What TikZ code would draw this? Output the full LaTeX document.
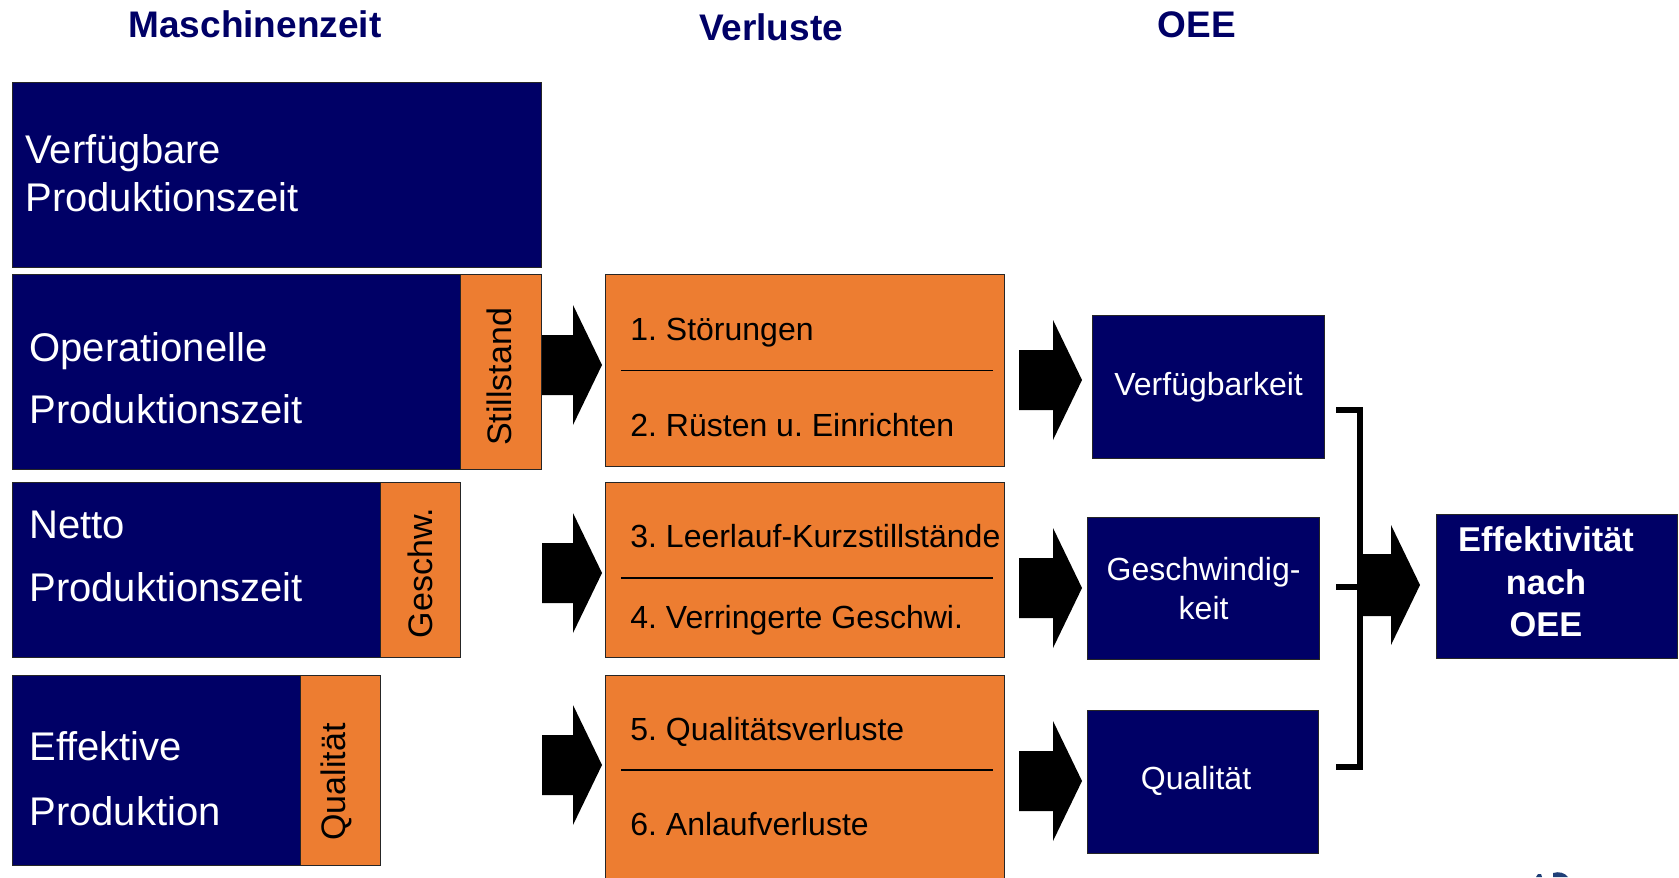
\documentclass[tikz,border=0pt]{standalone}
\usepackage{fontspec}
\setmainfont{Liberation Sans}
\frenchspacing
\definecolor{navy}{RGB}{0,0,102}
\definecolor{lossorange}{RGB}{237,125,49}
\definecolor{logoblue}{RGB}{31,63,119}
\begin{document}
\begin{tikzpicture}[x=0.5pt,y=-0.5pt,
  size/.style 2 args={minimum width=#1*0.5pt, minimum height=#2*0.5pt},
  navybox/.style={draw=black!85, line width=0.6pt, fill=navy, anchor=north west, inner sep=0pt, text=white},
  orangebox/.style={draw=black!85, line width=0.6pt, fill=lossorange, anchor=north west, inner sep=0pt},
  title/.style={font=\fontsize{18.5}{22}\selectfont\bfseries, text=navy, inner sep=0pt},
  bigtext/.style={font=\fontsize{20}{24}\selectfont, text=white, anchor=base west, inner sep=0pt},
  losstext/.style={font=\fontsize{16}{19}\selectfont, text=black, anchor=base west, inner sep=0pt},
  rottext/.style={font=\fontsize{17}{20}\selectfont, text=black, rotate=90, inner sep=0pt},
  oeetext/.style={font=\fontsize{16}{19.25}\selectfont, align=center},
  sepline/.style={line width=0.6pt, black},
  bracket/.style={line width=2.75pt, black},
  blockarrow/.pic={\fill[black] (0,-30) -- (#1,-30) -- (#1,-60) -- (#1+29,0) -- (#1,60) -- (#1,30) -- (0,30) -- cycle;}
]
\useasboundingbox (0,0) rectangle (1679,877);

% titles
\node[title] (tm) at (255,24) {Maschinenzeit};
\node[title] (tv) at (771,27) {Verluste};
\node[title] (to) at (1197,25) {OEE};

% machine time boxes
\node[navybox, size={529}{185}] (b1) at (12,82) {};
\node[bigtext] (b1a) at (25,164) {Verfügbare};
\node[bigtext] (b1b) at (25,212) {Produktionszeit};

\node[navybox, size={448}{195}] (b2) at (12,274) {};
\node[orangebox, size={81}{195}] (o2) at (460,274) {};
\node[bigtext] (b2a) at (29,361) {Operationelle};
\node[bigtext] (b2b) at (29,423) {Produktionszeit};
\node[rottext] (r2) at (499,377) {Stillstand};

\node[navybox, size={368}{175}] (b3) at (12,482) {};
\node[orangebox, size={80}{175}] (o3) at (380,482) {};
\node[bigtext] (b3a) at (29,538) {Netto};
\node[bigtext] (b3b) at (29,601) {Produktionszeit};
\node[rottext] (r3) at (420,573) {Geschw.};

\node[navybox, size={288}{190}] (b4) at (12,675) {};
\node[orangebox, size={80}{190}] (o4) at (300,675) {};
\node[bigtext] (b4a) at (29,760) {Effektive};
\node[bigtext] (b4b) at (29,825) {Produktion};
\node[rottext] (r4) at (336,782) {Qualität};

% loss boxes
\node[orangebox, size={399}{192}] (l1) at (605,274) {};
\node[orangebox, size={399}{175}] (l2) at (605,482) {};
\node[orangebox, size={399}{215}] (l3) at (605,675) {};
\draw[sepline] (621,370.5) -- (993,370.5);
\draw[sepline] (621,578) -- (993,578);
\draw[sepline] (621,770) -- (993,770);
\node[losstext] (v1) at (630,340.5) {1. Störungen};
\node[losstext] (v2) at (630,436.5) {2. Rüsten u. Einrichten};
\node[losstext] (v3) at (630,547.5) {3. Leerlauf-Kurzstillstände};
\node[losstext] (v4) at (630,628.5) {4. Verringerte Geschwi.};
\node[losstext] (v5) at (630,740.5) {5. Qualitätsverluste};
\node[losstext] (v6) at (630,835.5) {6. Anlaufverluste};

% arrows machine time -> losses
\pic at (542,365) {blockarrow=31};
\pic at (542,573) {blockarrow=31};
\pic at (542,765) {blockarrow=31};

% OEE boxes
\node[navybox, size={232}{143}] (k1) at (1092,315) {};
\node[oeetext, text=white] (k1t) at (k1.center) {Verfügbarkeit};
\node[navybox, size={232}{142}] (k2) at (1087,517) {};
\node[oeetext, text=white] (k2t) at (k2.center) {Geschwindig-\\keit};
\node[navybox, size={231}{143}] (k3) at (1087,710) {};
\node[oeetext, text=white] (k3t) at (1196,781) {Qualität};

% arrows losses -> OEE
\pic at (1019,380) {blockarrow=34};
\pic at (1019,588) {blockarrow=34};
\pic at (1019,781) {blockarrow=34};

% bracket
\coordinate (bt) at (1336,410);
\coordinate (bm) at (1336,587);
\coordinate (bb) at (1336,767);
\coordinate (bx) at (1360,587);
\draw[bracket] (bt) -- (bt -| bx) -- (bb -| bx) -- (bb);
\draw[bracket] (bm) -- (bx);

% final arrow
\fill[black] (1357,554) -- (1391,554) -- (1391,525) -- (1420,585) -- (1391,645) -- (1391,616) -- (1357,616) -- cycle;

% result box
\node[navybox, size={241}{144}] (e) at (1436,514) {};
\node[font=\fontsize{17.2}{21.25}\selectfont\bfseries, text=white, align=center, inner sep=0pt] (et) at (1546,582) {Effektivität\\nach\\OEE};

% logo fragment
\fill[logoblue] (1553,877) -- (1553,873) .. controls (1559,871) and (1565,873) .. (1568,877) -- cycle;
\fill[logoblue] (1536,877) -- (1538,874) -- (1541,874) -- (1542,877) -- cycle;
\end{tikzpicture}
\end{document}
